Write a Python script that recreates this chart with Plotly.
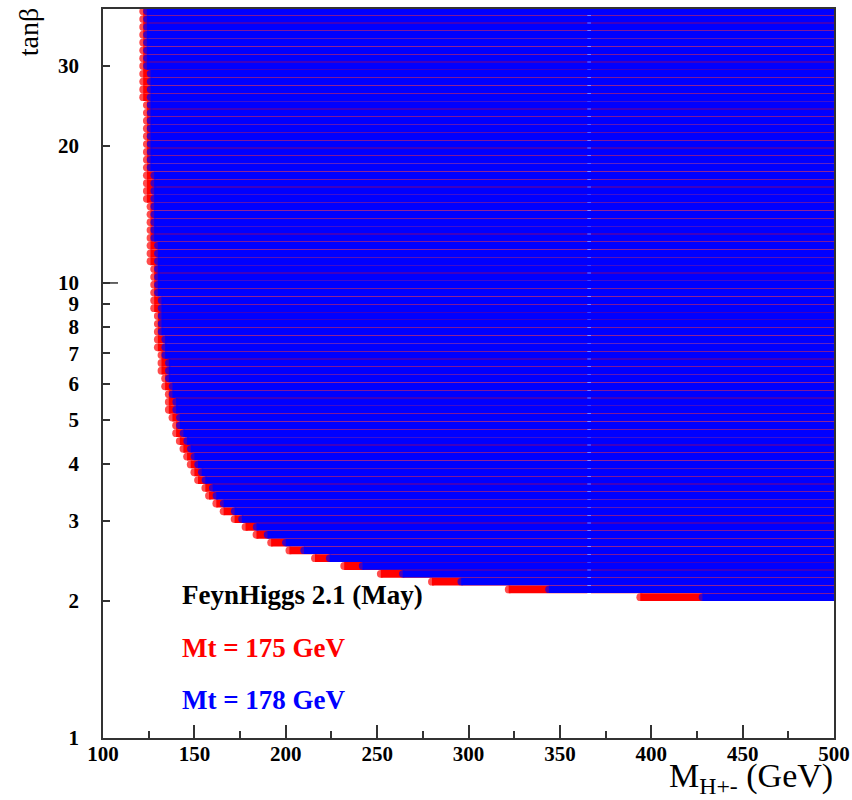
import math
import plotly.graph_objects as go

# ---------------- data ----------------
# tan(beta) rows of the scan (top -> bottom)
tan_beta = [39.54, 38.01, 36.54, 35.12, 33.76, 32.45, 31.19, 29.98, 28.82, 27.70,
            26.63, 25.60, 24.60, 23.65, 22.73, 21.85, 21.01, 20.19, 19.41, 18.66,
            17.93, 17.24, 16.57, 15.93, 15.31, 14.72, 14.15, 13.60, 13.07, 12.56,
            12.08, 11.61, 11.16, 10.73, 10.31, 9.911, 9.525, 9.156, 8.801, 8.460,
            8.132, 7.817, 7.514, 7.222, 6.942, 6.673, 6.415, 6.166, 5.927, 5.697,
            5.477, 5.264, 5.060, 4.864, 4.676, 4.494, 4.320, 4.153, 3.992, 3.837,
            3.688, 3.545, 3.408, 3.276, 3.149, 3.027, 2.910, 2.797, 2.688, 2.584,
            2.484, 2.388, 2.295, 2.206, 2.121, 2.039]

# first excluded M_H+- (GeV) of each row, Mt = 175 GeV (red)
mh_start_mt175 = [122, 122, 122, 122, 122, 122, 122, 122, 122, 122,
                  122, 122, 124, 124, 124, 124, 124, 124, 124, 124,
                  124, 124, 124, 124, 124, 126, 126, 126, 126, 126,
                  126, 126, 126, 128, 128, 128, 128, 128, 128, 130,
                  130, 130, 130, 130, 132, 132, 132, 134, 134, 136,
                  136, 136, 138, 140, 140, 142, 144, 146, 148, 150,
                  152, 156, 158, 162, 166, 172, 178, 184, 192, 202,
                  216, 232, 252, 280, 322, 394]

# first excluded M_H+- (GeV) of each row, Mt = 178 GeV (blue)
mh_start_mt178 = [124, 124, 124, 124, 124, 124, 124, 124, 126, 126,
                  126, 126, 126, 126, 126, 126, 126, 126, 126, 126,
                  126, 128, 128, 128, 128, 128, 128, 128, 128, 128,
                  130, 130, 130, 130, 130, 130, 130, 132, 132, 132,
                  132, 132, 134, 134, 134, 136, 136, 136, 138, 138,
                  140, 140, 142, 142, 144, 146, 148, 150, 152, 154,
                  156, 160, 162, 166, 172, 176, 184, 190, 200, 210,
                  224, 242, 264, 296, 344, 428]

mh_scan_max = 500          # end of the scan
mh_missing_mt175 = 366     # scan column absent from the Mt=175 set

x_ticks = [100, 150, 200, 250, 300, 350, 400, 450, 500]
x_minor_ticks = [125, 175, 225, 275, 325, 375, 425, 475]
y_ticks = [1, 2, 3, 4, 5, 6, 7, 8, 9, 10, 20, 30]
y_tick_text = ["1", "2", "3", "4", "5", "6", "7", "8", "9", "10", "20", "30"]

# ---------------- styling ----------------
FONT = "Liberation Serif"
W_RED = 7.8
W_BLUE = 7.4
RED = "#ff0000"
BLUE = "#0000ff"
AX = "#333333"


def build_rows(starts, missing=None):
    xs, ys, flags = [], [], []
    for t, m in zip(tan_beta, starts):
        if missing is not None and m < missing:
            pieces = [(m, missing - 1), (missing + 1, mh_scan_max)]
        else:
            pieces = [(m, mh_scan_max)]
        for j, (a, b) in enumerate(pieces):
            xs += [a, b, None]
            ys += [t, t, None]
            flags += [j == 0, False, False]
    return xs, ys, flags


fig = go.Figure()

xr, yr, fr = build_rows(mh_start_mt175, mh_missing_mt175)
fig.add_trace(go.Scatter(
    x=xr, y=yr, mode="lines+markers", name="Mt = 175 GeV",
    line=dict(color=RED, width=W_RED),
    marker=dict(color=RED, size=[W_RED if f else 0 for f in fr], line=dict(width=0)),
    hoverinfo="skip", connectgaps=False,
))

xb, yb, fb = build_rows(mh_start_mt178)
fig.add_trace(go.Scatter(
    x=xb, y=yb, mode="lines+markers", name="Mt = 178 GeV",
    line=dict(color=BLUE, width=W_BLUE),
    marker=dict(color=BLUE, size=[W_BLUE if f else 0 for f in fb], line=dict(width=0)),
    hoverinfo="skip", connectgaps=False,
))

tickfont = dict(family=FONT, size=21, color="black", weight="bold")

fig.update_layout(
    width=852, height=800,
    margin=dict(l=103, r=18, t=9, b=62, autoexpand=False),
    plot_bgcolor="white", paper_bgcolor="white",
    showlegend=False,
    xaxis=dict(
        range=[100, 500], tickvals=x_ticks, ticktext=[str(v) for v in x_ticks],
        ticks="inside", ticklen=13, tickwidth=1.5, tickcolor=AX,
        minor=dict(tickvals=x_minor_ticks, ticks="inside", ticklen=7,
                   tickwidth=1.5, tickcolor=AX, showgrid=False),
        showline=True, mirror=True, linecolor=AX, linewidth=1.5,
        showgrid=False, zeroline=False, tickfont=tickfont,
        ticklabelstandoff=-4, automargin=False,
    ),
    yaxis=dict(
        type="log", range=[0, math.log10(40)],
        tickvals=y_ticks, ticktext=y_tick_text,
        ticks="inside", ticklen=7, tickwidth=1.5, tickcolor=AX,
        showline=True, mirror=True, linecolor=AX, linewidth=1.5,
        showgrid=False, zeroline=False, tickfont=tickfont,
        ticklabelstandoff=18, automargin=False,
    ),
    shapes=[dict(type="line", xref="paper", yref="paper",
                 x0=0, x1=15 / 731, y0=1 / math.log10(40), y1=1 / math.log10(40),
                 line=dict(color=AX, width=1.5))],
    annotations=[
        dict(text="tanβ", xref="paper", yref="paper", x=-0.1026, y=0.968,
             textangle=-90, showarrow=False, xanchor="center", yanchor="middle",
             font=dict(family=FONT, size=28, color="black")),
        dict(text="M<sub>H+-</sub> (GeV)", xref="paper", yref="paper",
             x=1.002, y=-0.087, xanchor="right", yanchor="bottom", showarrow=False,
             font=dict(family=FONT, size=34, color="black")),
        dict(text="FeynHiggs 2.1 (May)", xref="paper", yref="paper",
             x=0.1053, y=0.196, xanchor="left", yanchor="middle", showarrow=False,
             font=dict(family=FONT, size=27, color="black", weight="bold")),
        dict(text="Mt = 175 GeV", xref="paper", yref="paper",
             x=0.1053, y=0.1235, xanchor="left", yanchor="middle", showarrow=False,
             font=dict(family=FONT, size=27, color=RED, weight="bold")),
        dict(text="Mt = 178 GeV", xref="paper", yref="paper",
             x=0.1053, y=0.0521, xanchor="left", yanchor="middle", showarrow=False,
             font=dict(family=FONT, size=27, color=BLUE, weight="bold")),
    ],
)

fig.write_html("out.html")
